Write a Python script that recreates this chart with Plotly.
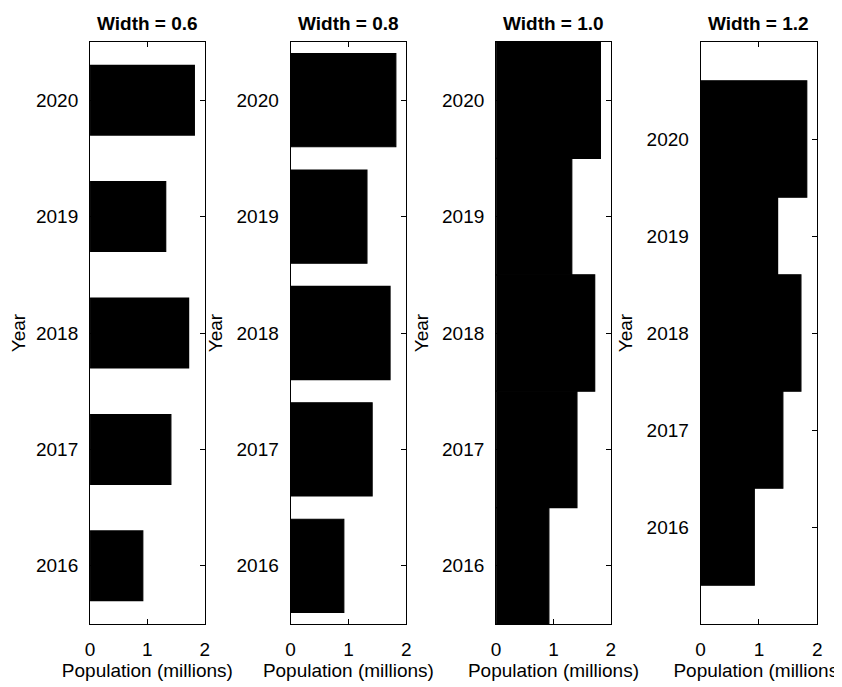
import plotly.graph_objects as go

# data
years = [2016, 2017, 2018, 2019, 2020]
population = [0.92, 1.41, 1.72, 1.32, 1.82]
bar_widths = [0.6, 0.8, 1.0, 1.2]
panel_titles = ['Width = 0.6', 'Width = 0.8', 'Width = 1.0', 'Width = 1.2']
y_ranges = [[2015.5, 2020.5], [2015.5, 2020.5], [2015.5, 2020.5], [2015.0, 2021.0]]

# the page puts the figure 8 px in from the top-left corner, so shrink it
OFF = 8
W, H = 842 - OFF, 687 - OFF
# panel edges in page pixels (left, right)
panel_px = [(86, 202), (289, 406), (497, 613), (704, 822)]
top_px, bottom_px = 42, 624

FONT = 'Liberation Sans, Arial, sans-serif'

fig = go.Figure()
layout = dict(
    width=W, height=H,
    margin=dict(l=0, r=0, t=0, b=0),
    paper_bgcolor='white', plot_bgcolor='white',
    showlegend=False,
    font=dict(family=FONT, size=19, color='black'),
    annotations=[],
)

for i, (bw, title) in enumerate(zip(bar_widths, panel_titles)):
    n = '' if i == 0 else str(i + 1)
    fig.add_trace(go.Bar(
        x=population, y=years, orientation='h', width=bw,
        # black outline hides the seams where bars touch
        marker=dict(color='black', line=dict(color='black', width=1.2)),
        xaxis='x' + n, yaxis='y' + n,
    ))
    x0, x1 = panel_px[i][0] - OFF, panel_px[i][1] - OFF
    axis_common = dict(
        showline=True, mirror='ticks', linecolor='black', linewidth=1,
        ticks='inside', ticklen=5, tickcolor='black', tickwidth=1,
        showgrid=False, zeroline=False,
        tickfont=dict(family=FONT, size=19, color='black'),
    )
    layout['xaxis' + n] = dict(
        axis_common,
        domain=[x0 / W, x1 / W], anchor='y' + n,
        range=[0, 2], tickvals=[0, 1, 2],
        ticklabelstandoff=8,
        title=dict(text='Population (millions)', standoff=4,
                   font=dict(family=FONT, size=19)),
    )
    layout['yaxis' + n] = dict(
        axis_common,
        domain=[1 - (bottom_px - OFF) / H, 1 - (top_px - OFF) / H], anchor='x' + n,
        range=y_ranges[i], tickvals=years,
        ticklabelstandoff=7,
        title=dict(text='Year', standoff=8,
                   font=dict(family=FONT, size=19)),
    )
    layout['annotations'].append(dict(
        text='<b>' + title + '</b>', xref='paper', yref='paper',
        x=(x0 + x1) / 2 / W, y=1 - (23 - OFF) / H, xanchor='center', yanchor='middle',
        showarrow=False, font=dict(family=FONT, size=19, color='black'),
    ))

fig.update_layout(layout)
fig.write_html("out.html")
